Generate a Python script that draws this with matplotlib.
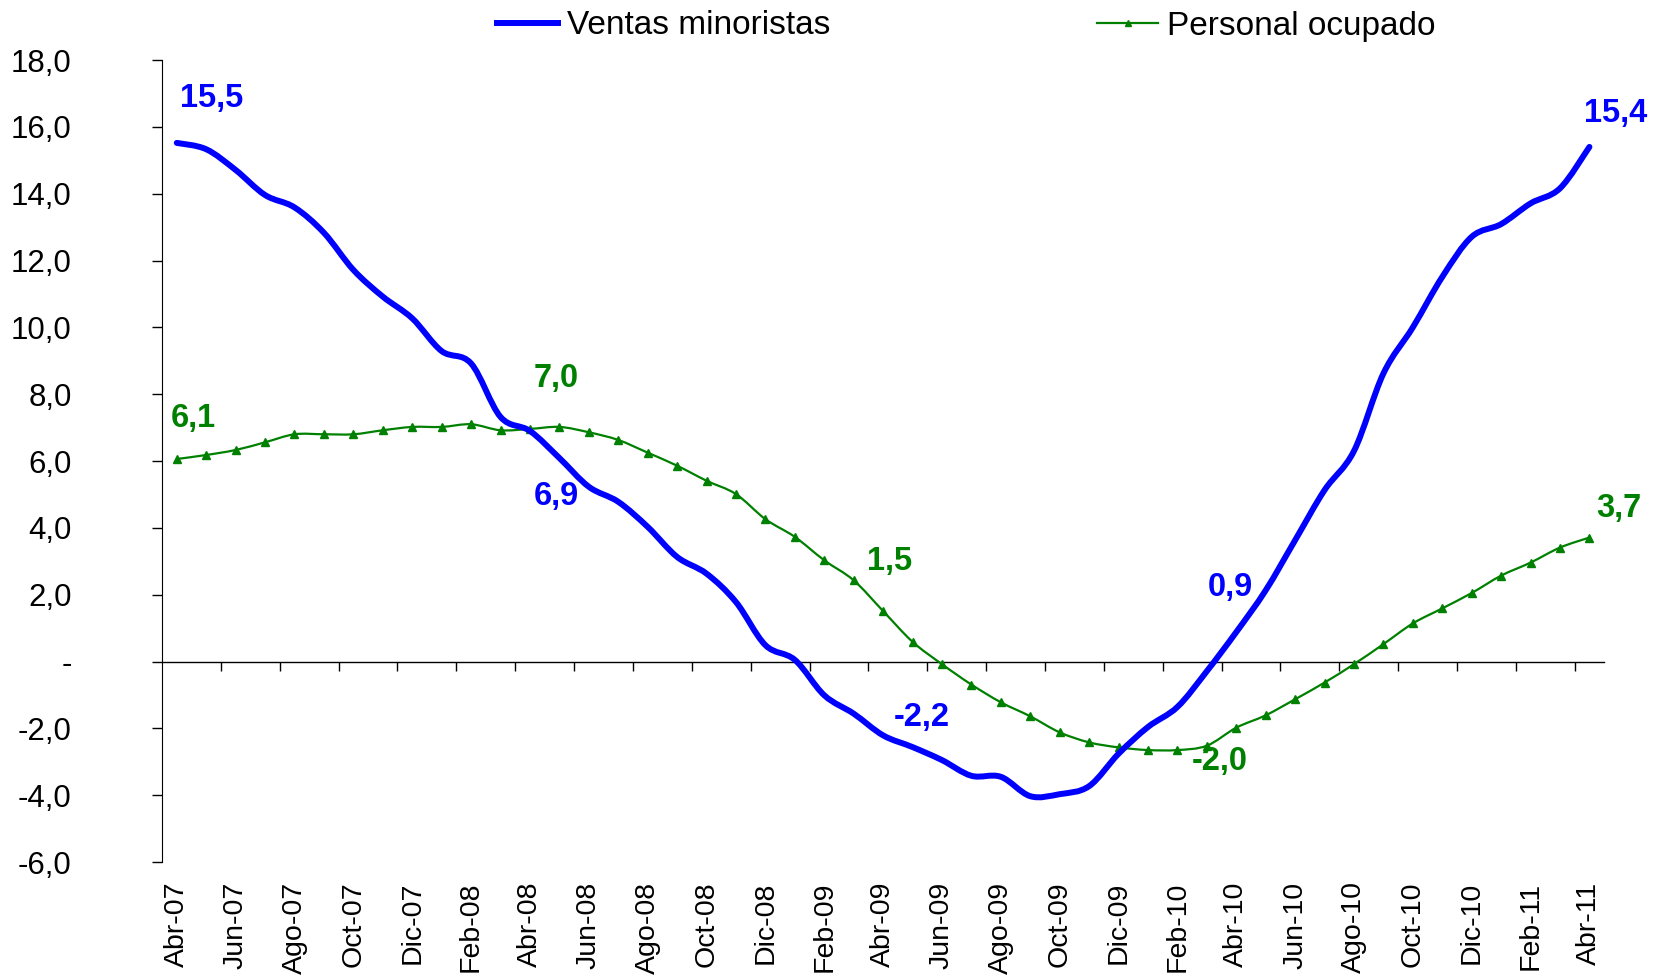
import numpy as np
import matplotlib
matplotlib.use('Agg')
import matplotlib.pyplot as plt
from matplotlib.ticker import FuncFormatter
from matplotlib.path import Path
from matplotlib.patches import PathPatch
from matplotlib.lines import Line2D
###############################################################################
plt.rcParams['font.family'] = ['Liberation Sans', 'DejaVu Sans']

MESES = ['Abr', 'May', 'Jun', 'Jul', 'Ago', 'Sep', 'Oct', 'Nov', 'Dic', 'Ene', 'Feb', 'Mar']

# Abr-07 .. Abr-11, mensual
meses = []
for i in range(49):
    anio = 7 + (i + 3) // 12
    meses.append('%s-%02d' % (MESES[i % 12], anio))

ventas = [15.52, 15.33, 14.71, 13.96, 13.59, 12.83, 11.72, 10.92, 10.27, 9.29,
          8.92, 7.32, 6.90, 6.09, 5.23, 4.78, 4.03, 3.13, 2.63, 1.78,
          0.49, 0.05, -1.01, -1.56, -2.21, -2.56, -2.95, -3.42, -3.45, -4.03,
          -3.97, -3.73, -2.76, -1.96, -1.36, -0.29, 0.88, 2.13, 3.63, 5.13,
          6.30, 8.62, 10.0, 11.51, 12.71, 13.09, 13.71, 14.16, 15.40]

personal = [6.06, 6.18, 6.33, 6.56, 6.80, 6.80, 6.80, 6.92, 7.02, 7.02,
            7.10, 6.92, 6.96, 7.02, 6.86, 6.63, 6.25, 5.86, 5.41, 5.01,
            4.26, 3.73, 3.03, 2.43, 1.51, 0.59, -0.08, -0.69, -1.22, -1.64,
            -2.12, -2.42, -2.57, -2.65, -2.65, -2.52, -1.98, -1.61, -1.13, -0.63,
            -0.08, 0.52, 1.14, 1.59, 2.05, 2.57, 2.96, 3.41, 3.71]

# etiquetas en cada abril
idx_abril = [0, 12, 24, 36, 48]
off_ventas = [(25, 32), (19, -47), (28, 13), (-4, 32), (19, 24)]
off_personal = [(12, 29), (19, 36), (5, 36), (-12, -24), (21, 21)]
###############################################################################
AZUL = '#0000FF'
VERDE = '#008000'

# linea suavizada (estilo Excel): bezier por los puntos de datos
def curva_suave(xs, ys):
    pts = np.column_stack([xs, ys]).astype(float)
    n = len(pts)
    verts = [pts[0]]
    codes = [Path.MOVETO]
    for i in range(n - 1):
        p0 = pts[i - 1] if i > 0 else pts[i]
        p1 = pts[i]
        p2 = pts[i + 1]
        p3 = pts[i + 2] if i + 2 < n else pts[i + 1]
        verts += [p1 + (p2 - p0) / 6, p2 - (p3 - p1) / 6, p2]
        codes += [Path.CURVE4] * 3
    return Path(verts, codes)

fig = plt.figure(figsize=(16.57, 9.76), dpi=100)
ax = fig.add_axes([0.0978, 0.1168, 0.8703, 0.8217])

x = np.arange(len(meses))
ax.add_patch(PathPatch(curva_suave(x, personal), facecolor='none', edgecolor=VERDE,
                       linewidth=1.6, zorder=2))
ax.plot(x, personal, linestyle='none', color=VERDE, marker='^', markersize=6, zorder=2)
ax.add_patch(PathPatch(curva_suave(x, ventas), facecolor='none', edgecolor=AZUL,
                       linewidth=4.3, capstyle='round', joinstyle='round', zorder=3))

def fmt(v):
    return ('%.1f' % v).replace('.', ',')

for i, off in zip(idx_abril, off_ventas):
    ax.annotate(fmt(ventas[i]), (x[i], ventas[i]), xytext=off, textcoords='offset points',
                ha='center', va='center', color=AZUL, fontsize=23.5, fontweight='bold')
for i, off in zip(idx_abril, off_personal):
    ax.annotate(fmt(personal[i]), (x[i], personal[i]), xytext=off, textcoords='offset points',
                ha='center', va='center', color=VERDE, fontsize=23.5, fontweight='bold')

# ejes
ax.set_xlim(-0.5, 48.5)
ax.set_ylim(-6, 18)
ax.set_yticks(np.arange(-6, 19, 2))
ax.yaxis.set_major_formatter(FuncFormatter(lambda v, p: '-' if abs(v) < 1e-9 else fmt(v)))
ax.tick_params(axis='y', direction='out', length=7, width=1, pad=58, labelsize=22.5)

ax.set_xticks(x[::2])
ax.set_xticklabels(meses[::2], rotation=90)
ax.tick_params(axis='x', length=0, pad=14, labelsize=20.5)

for s in ['top', 'right', 'bottom']:
    ax.spines[s].set_visible(False)

# linea del cero con marcas entre categorias
sec = ax.secondary_xaxis(0.25)
sec.set_xticks(np.arange(1.5, 48, 2))
sec.tick_params(axis='x', direction='out', length=6.5, width=1, labelbottom=False)
sec.spines['bottom'].set_linewidth(1)

handles = [Line2D([], [], color=AZUL, linewidth=4.3),
           Line2D([], [], color=VERDE, linewidth=1.6, marker='^', markersize=5)]
fig.legend(handles, ['Ventas minoristas', 'Personal ocupado'], loc='center',
           bbox_to_anchor=(0.583, 1 - 26 / 976), ncol=2, frameon=False,
           fontsize=24, columnspacing=8.0, handlelength=1.85, handletextpad=0.25)

plt.savefig('out.png', dpi=100)
